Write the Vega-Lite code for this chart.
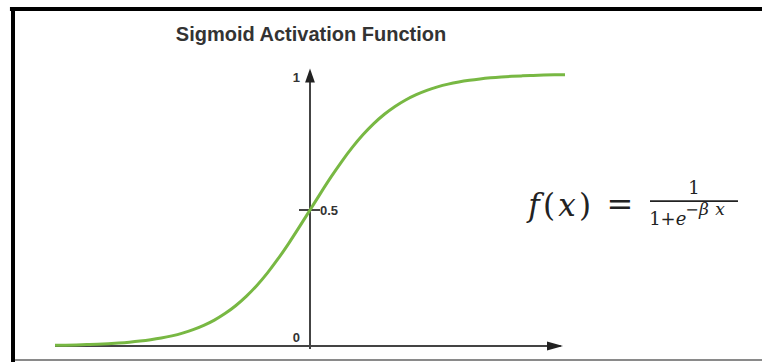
{
  "$schema": "https://vega.github.io/schema/vega-lite/v6.json",
  "width": 762,
  "height": 362,
  "autosize": "none",
  "padding": 0,
  "background": "white",
  "config": {"view": {"stroke": null}},
  "encoding": {
    "x": {"field": "x", "type": "quantitative", "axis": null,
          "scale": {"domain": [-7.294, 10.635], "nice": false, "zero": false}},
    "y": {"field": "y", "type": "quantitative", "axis": null,
          "scale": {"domain": [-0.0588, 1.2721], "nice": false, "zero": false}}
  },
  "layer": [
    {
      "data": {"values": [{"x": -7.06, "y": 1.239, "x2": 10.635, "y2": 1.239}]},
      "mark": {"type": "rule", "color": "black", "strokeWidth": 4},
      "encoding": {"x2": {"field": "x2"}, "y2": {"field": "y2"}}
    },
    {
      "data": {"values": [{"x": -6.988, "y": 1.246, "x2": -6.988, "y2": -0.0588}]},
      "mark": {"type": "rule", "color": "black", "strokeWidth": 4},
      "encoding": {"x2": {"field": "x2"}, "y2": {"field": "y2"}}
    },
    {
      "data": {"values": [{"x": -6.94, "y": -0.0515, "x2": 10.635, "y2": -0.0515}]},
      "mark": {"type": "rule", "color": "#8a8a8a", "strokeWidth": 2},
      "encoding": {"x2": {"field": "x2"}, "y2": {"field": "y2"}}
    },
    {
      "data": {"values": [
        {"x": -6.0, "y": 0, "x2": 5.9, "y2": 0},
        {"x": 0, "y": -0.011, "x2": 0, "y2": 0.985},
        {"x": -0.259, "y": 0.5, "x2": 0.235, "y2": 0.5}
      ]},
      "mark": {"type": "rule", "color": "#444444", "strokeWidth": 2},
      "encoding": {"x2": {"field": "x2"}, "y2": {"field": "y2"}}
    },
    {
      "data": {"values": [{"x": 5.765, "y": 0}]},
      "mark": {"type": "point", "filled": true, "opacity": 1, "color": "#222222",
               "shape": "M-1,-0.55L1,0L-1,0.55Z", "size": 256}
    },
    {
      "data": {"values": [{"x": 0, "y": 0.9945}]},
      "mark": {"type": "point", "filled": true, "opacity": 1, "color": "#222222",
               "shape": "M-0.7,1L0,-1L0.7,1Z", "size": 196}
    },
    {
      "data": {"values": [
        {"x": -6.0, "y": 0.00247}, {"x": -5.75, "y": 0.00317}, {"x": -5.5, "y": 0.00407},
        {"x": -5.25, "y": 0.00522}, {"x": -5.0, "y": 0.00669}, {"x": -4.75, "y": 0.00858},
        {"x": -4.5, "y": 0.01099}, {"x": -4.25, "y": 0.01406}, {"x": -4.0, "y": 0.01799},
        {"x": -3.75, "y": 0.02298}, {"x": -3.5, "y": 0.02931}, {"x": -3.25, "y": 0.03732},
        {"x": -3.0, "y": 0.04743}, {"x": -2.75, "y": 0.06007}, {"x": -2.5, "y": 0.07586},
        {"x": -2.25, "y": 0.09534}, {"x": -2.0, "y": 0.1192}, {"x": -1.75, "y": 0.14805},
        {"x": -1.5, "y": 0.18243}, {"x": -1.25, "y": 0.2227}, {"x": -1.0, "y": 0.26894},
        {"x": -0.75, "y": 0.32082}, {"x": -0.5, "y": 0.37754}, {"x": -0.25, "y": 0.43782},
        {"x": 0.0, "y": 0.5},
        {"x": 0.25, "y": 0.56218}, {"x": 0.5, "y": 0.62246}, {"x": 0.75, "y": 0.67918},
        {"x": 1.0, "y": 0.73106}, {"x": 1.25, "y": 0.7773}, {"x": 1.5, "y": 0.81757},
        {"x": 1.75, "y": 0.85195}, {"x": 2.0, "y": 0.8808}, {"x": 2.25, "y": 0.90466},
        {"x": 2.5, "y": 0.92414}, {"x": 2.75, "y": 0.93993}, {"x": 3.0, "y": 0.95257},
        {"x": 3.25, "y": 0.96268}, {"x": 3.5, "y": 0.97069}, {"x": 3.75, "y": 0.97702},
        {"x": 4.0, "y": 0.98201}, {"x": 4.25, "y": 0.98594}, {"x": 4.5, "y": 0.98901},
        {"x": 4.75, "y": 0.99142}, {"x": 5.0, "y": 0.99331}, {"x": 5.25, "y": 0.99478},
        {"x": 5.5, "y": 0.99593}, {"x": 5.75, "y": 0.99683}, {"x": 6.0, "y": 0.99753}
      ]},
      "mark": {"type": "line", "color": "#78b843", "strokeWidth": 3, "interpolate": "monotone"}
    },
    {
      "data": {"values": [
        {"x": -0.235, "y": 0.985, "label": "1"},
        {"x": -0.235, "y": 0.0294, "label": "0"}
      ]},
      "mark": {"type": "text", "align": "right", "baseline": "middle", "font": "Liberation Sans",
               "fontWeight": "bold", "fontSize": 13, "color": "#333333"},
      "encoding": {"text": {"field": "label"}}
    },
    {
      "data": {"values": [{"x": 0.235, "y": 0.496, "label": "0.5"}]},
      "mark": {"type": "text", "align": "left", "baseline": "middle", "font": "Liberation Sans",
               "fontWeight": "bold", "fontSize": 13, "color": "#333333"},
      "encoding": {"text": {"field": "label"}}
    },
    {
      "data": {"values": [{"x": 0.0235, "y": 1.1434, "label": "Sigmoid Activation Function"}]},
      "mark": {"type": "text", "align": "center", "baseline": "middle", "font": "Liberation Sans",
               "fontWeight": "bold", "fontSize": 20, "color": "#333333"},
      "encoding": {"text": {"field": "label"}}
    },
    {
      "data": {"values": [
        {"x": 5.271, "y": 0.511, "label": "f"},
        {"x": 6.047, "y": 0.511, "label": "x"}
      ]},
      "mark": {"type": "text", "align": "center", "baseline": "middle", "font": "DejaVu Serif",
               "fontStyle": "italic", "fontSize": 31, "color": "#222222"},
      "encoding": {"text": {"field": "label"}}
    },
    {
      "data": {"values": [
        {"x": 5.624, "y": 0.511, "label": "("},
        {"x": 6.47, "y": 0.511, "label": ")"}
      ]},
      "mark": {"type": "text", "align": "center", "baseline": "middle", "font": "DejaVu Serif",
               "fontSize": 31, "color": "#222222"},
      "encoding": {"text": {"field": "label"}}
    },
    {
      "data": {"values": [{"x": 7.294, "y": 0.518, "label": "="}]},
      "mark": {"type": "text", "align": "center", "baseline": "middle", "font": "DejaVu Serif",
               "fontSize": 32, "color": "#222222"},
      "encoding": {"text": {"field": "label"}}
    },
    {
      "data": {"values": [{"x": 9.035, "y": 0.577, "label": "1"}]},
      "mark": {"type": "text", "align": "center", "baseline": "middle", "font": "DejaVu Serif",
               "fontSize": 18, "color": "#222222"},
      "encoding": {"text": {"field": "label"}}
    },
    {
      "data": {"values": [{"x": 8.0, "y": 0.533, "x2": 10.07, "y2": 0.533}]},
      "mark": {"type": "rule", "color": "#222222", "strokeWidth": 1.8},
      "encoding": {"x2": {"field": "x2"}, "y2": {"field": "y2"}}
    },
    {
      "data": {"values": [
        {"x": 8.118, "y": 0.4449, "label": "1"},
        {"x": 8.424, "y": 0.4449, "label": "+"}
      ]},
      "mark": {"type": "text", "align": "center", "baseline": "alphabetic", "font": "DejaVu Serif",
               "fontSize": 18, "color": "#222222"},
      "encoding": {"text": {"field": "label"}}
    },
    {
      "data": {"values": [{"x": 8.729, "y": 0.4449, "label": "e"}]},
      "mark": {"type": "text", "align": "center", "baseline": "alphabetic", "font": "DejaVu Serif",
               "fontStyle": "italic", "fontSize": 18, "color": "#222222"},
      "encoding": {"text": {"field": "label"}}
    },
    {
      "data": {"values": [{"x": 8.988, "y": 0.4816, "label": "−"}]},
      "mark": {"type": "text", "align": "center", "baseline": "alphabetic", "font": "DejaVu Serif",
               "fontSize": 16, "color": "#222222"},
      "encoding": {"text": {"field": "label"}}
    },
    {
      "data": {"values": [
        {"x": 9.27, "y": 0.4816, "label": "β"},
        {"x": 9.65, "y": 0.4816, "label": "x"}
      ]},
      "mark": {"type": "text", "align": "center", "baseline": "alphabetic", "font": "DejaVu Serif",
               "fontStyle": "italic", "fontSize": 17, "color": "#222222"},
      "encoding": {"text": {"field": "label"}}
    }
  ]
}
